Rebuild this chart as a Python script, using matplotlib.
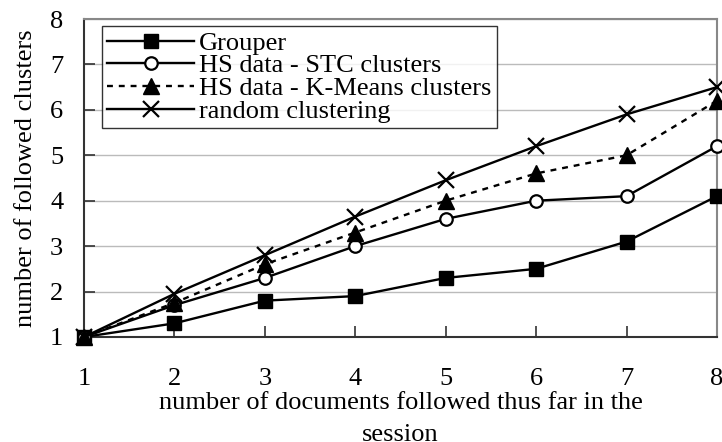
import matplotlib
matplotlib.use("Agg")
import matplotlib.pyplot as plt

# data
docs = [1, 2, 3, 4, 5, 6, 7, 8]
grouper = [1.0, 1.3, 1.8, 1.9, 2.3, 2.5, 3.1, 4.1]
hs_stc = [1.0, 1.7, 2.3, 3.0, 3.6, 4.0, 4.1, 5.2]
hs_kmeans = [1.0, 1.75, 2.6, 3.3, 4.0, 4.6, 5.0, 6.2]
random_clust = [1.0, 1.95, 2.8, 3.65, 4.45, 5.2, 5.9, 6.5]
y_ticks = [1, 2, 3, 4, 5, 6, 7, 8]

plt.rcParams['font.family'] = ['Liberation Serif', 'DejaVu Serif']
fs = 19

fig = plt.figure(figsize=(7.22, 4.42), dpi=100)
ax = fig.add_axes([0.1163, 0.2376, 0.8767, 0.7194])

ax.plot(docs, grouper, color='black', lw=1.7, marker='s', ms=10,
        label='Grouper', clip_on=False, zorder=5)
ax.plot(docs, hs_stc, color='black', lw=1.7, marker='o', ms=9, mfc='white',
        mew=1.6, label='HS data - STC clusters', clip_on=False, zorder=5)
ax.plot(docs, hs_kmeans, color='black', lw=1.7, ls=(0, (2.5, 2.5)), marker='^',
        ms=11, label='HS data - K-Means clusters', clip_on=False, zorder=5)
ax.plot(docs, random_clust, color='black', lw=1.7, marker='x', ms=11, mew=1.6,
        label='random clustering', clip_on=False, zorder=5)

ax.set_xlim(1, 8)
ax.set_ylim(1, 8)
ax.set_xticks(docs)
ax.set_yticks(y_ticks)
ax.yaxis.grid(True, color='#bbbbbb', lw=1)
ax.set_axisbelow(True)

ax.tick_params(axis='x', direction='in', length=8, width=1.2, color='#333333',
               pad=22, labelsize=fs)
ax.tick_params(axis='y', direction='in', length=8, width=1.2, color='#333333',
               pad=15, labelsize=fs)

for side in ['left', 'bottom']:
    ax.spines[side].set_color('#333333')
    ax.spines[side].set_linewidth(1.5)
for side in ['top', 'right']:
    ax.spines[side].set_color('#888888')
    ax.spines[side].set_linewidth(1.5)

ax.set_xlabel('number of documents followed thus far in the\nsession',
              fontsize=fs, labelpad=2, linespacing=1.55)
ax.set_ylabel('number of followed clusters', fontsize=fs, labelpad=9)

leg = ax.legend(loc='upper left', bbox_to_anchor=(0.028, 0.978), fontsize=fs,
                frameon=True, fancybox=False, edgecolor='black',
                borderpad=0.2, labelspacing=-0.03, handlelength=3.3,
                handletextpad=0.2, borderaxespad=0)
leg.get_frame().set_linewidth(1.0)

fig.savefig('out.png', dpi=100)
